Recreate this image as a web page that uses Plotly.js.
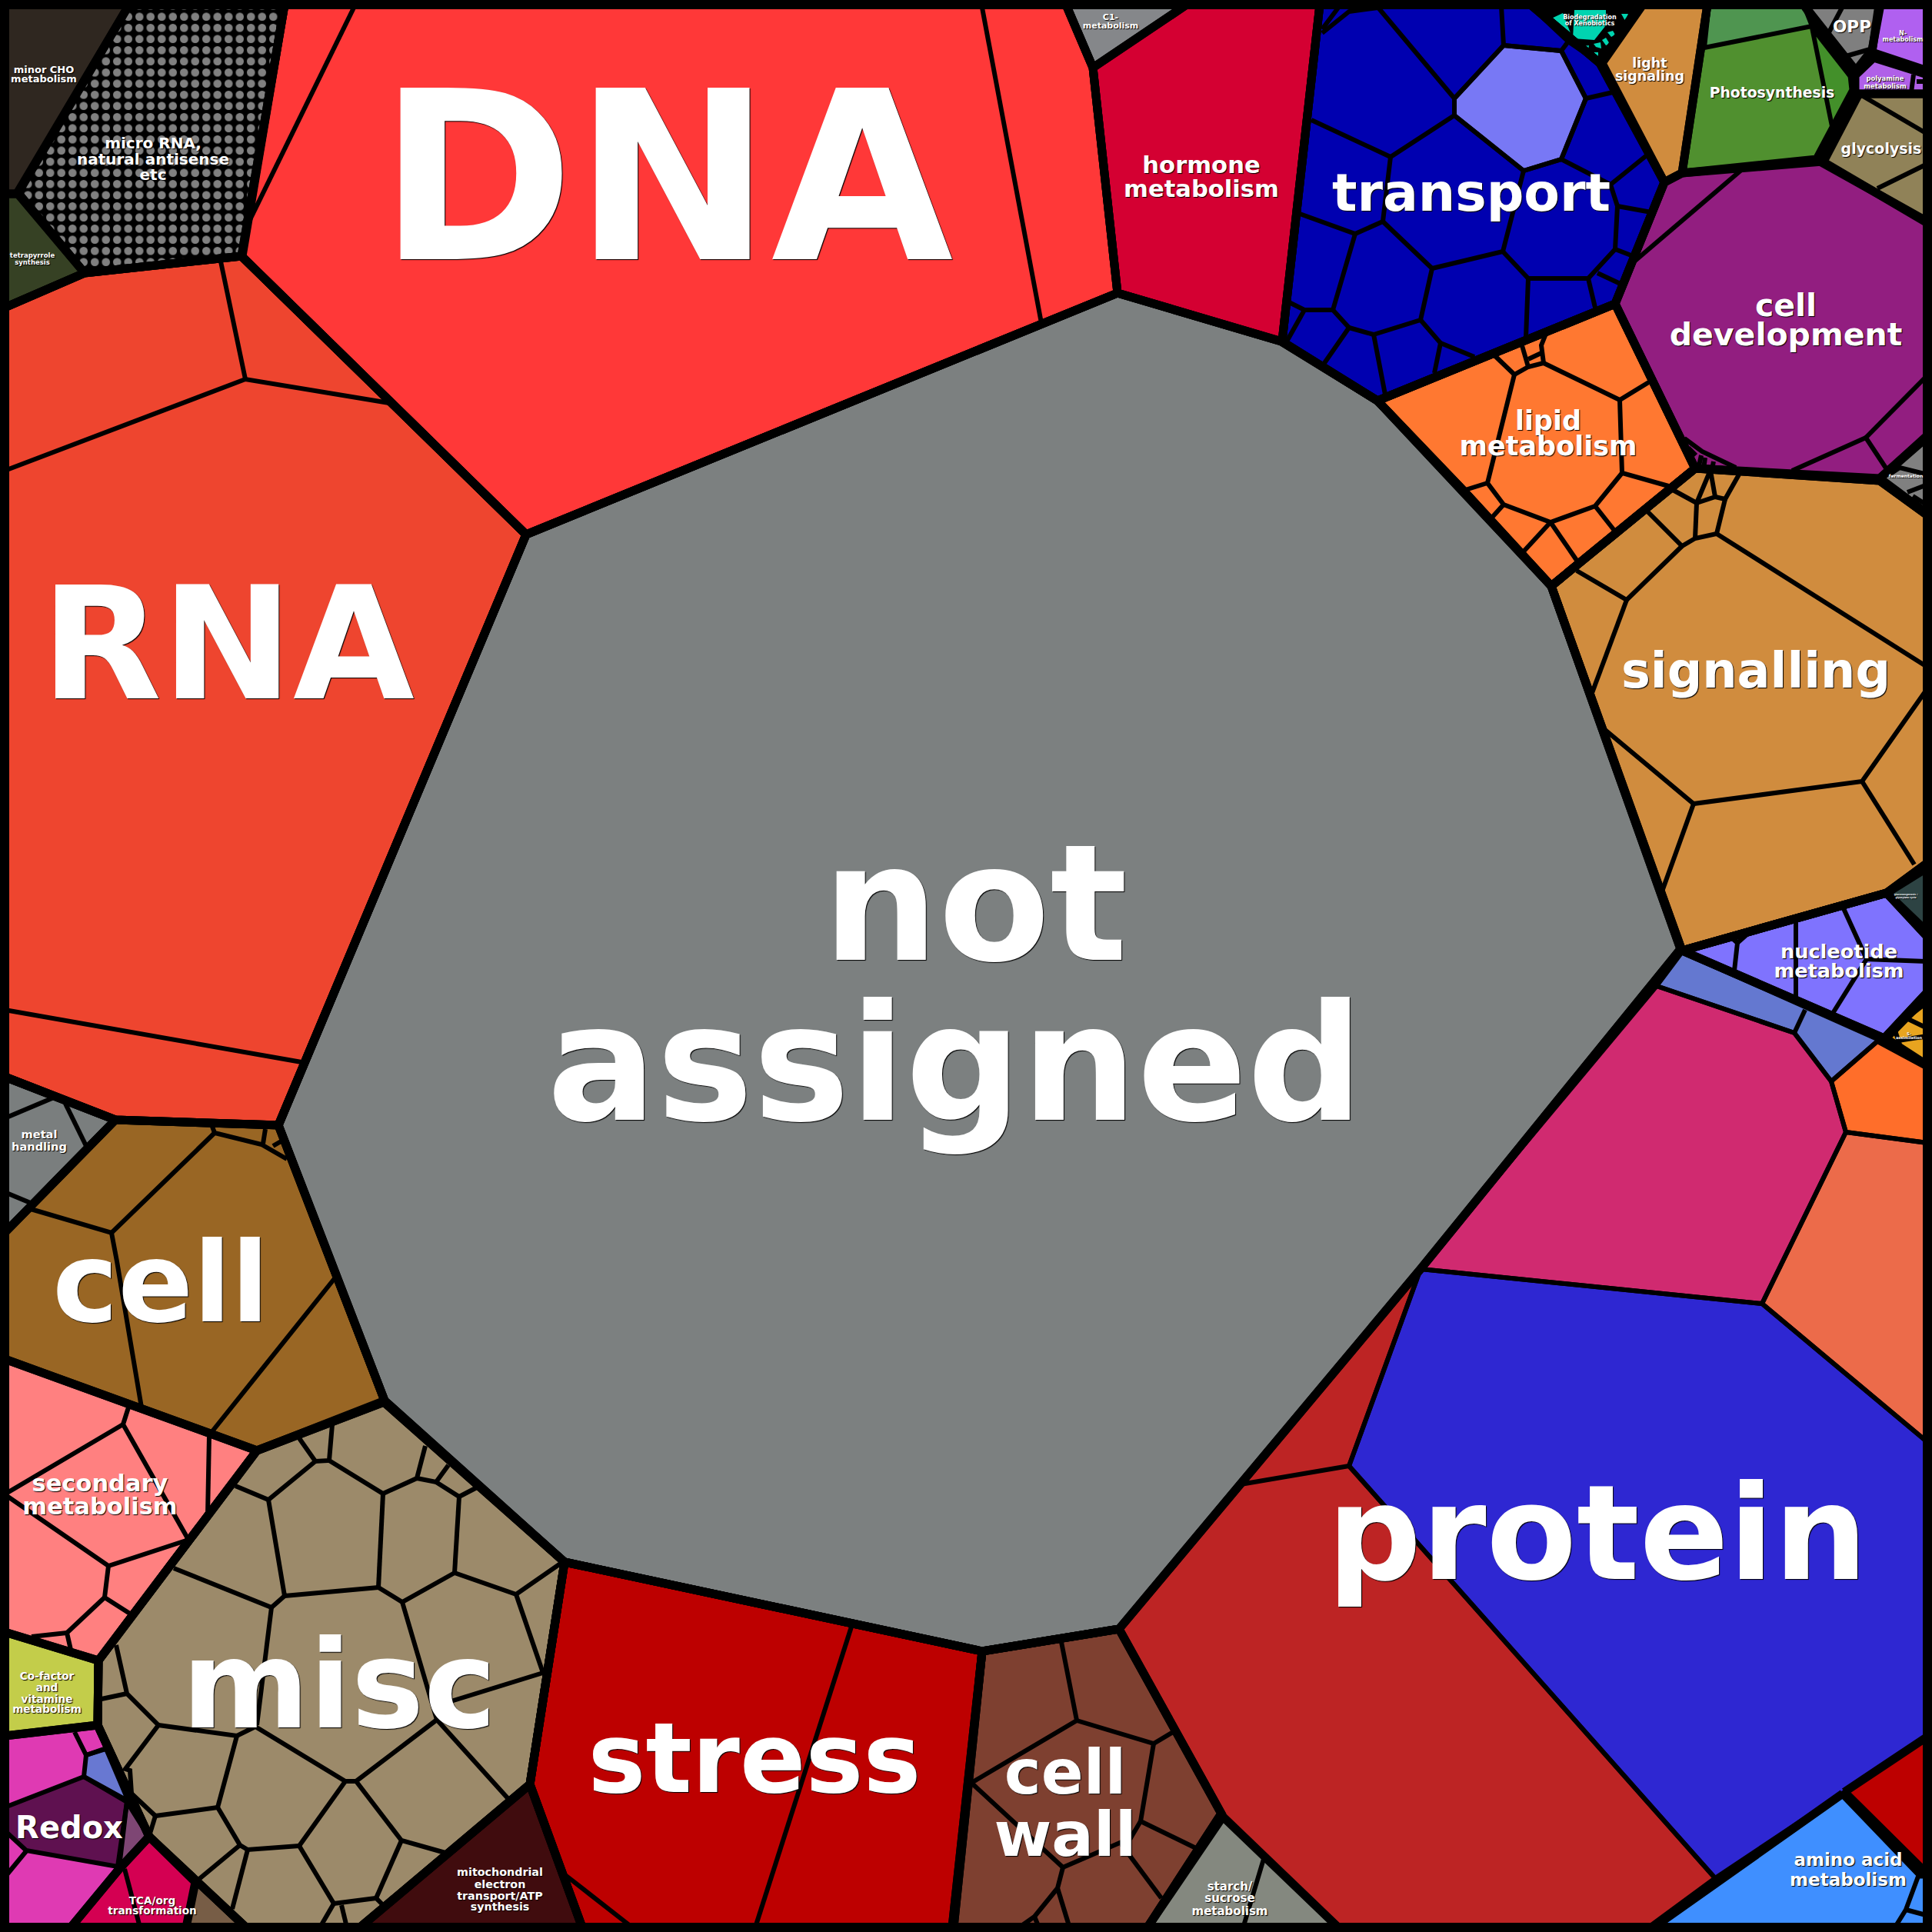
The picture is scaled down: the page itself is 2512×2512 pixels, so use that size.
<!DOCTYPE html>
<html><head><meta charset="utf-8">
<script src="https://cdn.plot.ly/plotly-3.0.1.min.js"></script>
<style>html,body{margin:0;padding:0;background:#000}</style></head>
<body><div id="chart" style="width:2512px;height:2512px"></div>
<script>
// ---- cell outlines (x,y in picture units) ----
const notAssigned=[[1453,381],[1666,444],[1791,521],[1905,640],[2017,762],[2185,1234],[1847,1650],[1455,2118],[1277,2147],[734,2031],[500,1821],[362,1463],[684,695]];
const dna=[[370,6],[1386,6],[1421,88],[1453,381],[684,695],[314,333]];
const dnaLines=[[[460,10],[318,300]],[[1277,10],[1354,420]]];
const rna=[[6,400],[110,355],[314,333],[684,695],[362,1463],[150,1456],[6,1400]];
const rnaLines=[[[287,340],[319,493]],[[6,612],[319,493],[506,524]],[[6,1313],[392,1381]]];
const microRna=[[168,6],[370,6],[315,333],[110,355],[23,250]];
const minorCho=[[6,6],[168,6],[23,252],[6,252]];
const tetrapyrrole=[[6,252],[23,252],[110,355],[6,400]];
const metal=[[6,1400],[150,1456],[6,1603]];
const metalLines=[[[6,1454],[70,1427]],[[85,1435],[112,1490]],[[6,1550],[42,1565]]];
const cell=[[150,1456],[362,1463],[500,1821],[334,1886],[6,1767],[6,1603]];
const cellLines=[[[275,1462],[279,1473],[340,1488],[373,1507]],[[279,1473],[145,1603],[40,1572]],[[145,1603],[152,1640],[184,1830]],[[276,1861],[436,1661]],[[345,1468],[342,1487]],[[355,1490],[367,1483]]];
const secondary=[[6,1767],[334,1886],[128,2159],[6,2122]];
const secondaryLines=[[[167,1830],[160,1852],[245,2002]],[[160,1852],[6,1943],[141,2036],[245,2002]],[[141,2036],[136,2077],[172,2100]],[[136,2077],[87,2123],[92,2145]],[[87,2123],[41,2128]],[[272,1866],[270,1970]]];
const cofactor=[[6,2122],[128,2159],[127,2243],[6,2257]];
const redox=[[6,2257],[127,2243],[194,2388],[155,2430],[92,2506],[6,2506]];
const redoxLines=[[[97,2252],[112,2282],[138,2273]],[[34,2407],[6,2441]]];
const redoxDark=[[6,2350],[109,2310],[165,2343],[153,2427],[34,2406],[6,2380]];
const redoxBlue=[[138,2274],[167,2342],[109,2310],[112,2282]];
const redoxMauve=[[165,2343],[192,2386],[155,2428]];
const tca=[[194,2388],[254,2447],[242,2506],[92,2506],[155,2430]];
const tcaLines=[[[162,2430],[182,2506]]];
const tcaBrown=[[254,2447],[316,2506],[242,2506]];
const misc=[[334,1886],[499,1823],[734,2031],[689,2320],[468,2506],[320,2506],[194,2388],[127,2243],[128,2159]];
const miscLines=[[[389,1870],[410,1900],[428,1899],[432,1852]],[[410,1900],[349,1950],[306,1932]],[[428,1899],[498,1942],[542,1922],[553,1880]],[[542,1922],[567,1927],[583,1905]],[[567,1927],[597,1946],[620,1934]],[[498,1942],[492,2064]],[[597,1946],[591,2045]],[[591,2045],[671,2073],[730,2032]],[[671,2073],[706,2175]],[[492,2064],[523,2083],[591,2045]],[[492,2064],[370,2075],[349,1950]],[[370,2075],[353,2090],[226,2039]],[[353,2090],[334,2243]],[[523,2083],[568,2236]],[[706,2175],[567,2218]],[[568,2236],[463,2316],[449,2316],[332,2245],[308,2257],[206,2243]],[[308,2257],[283,2350]],[[206,2243],[165,2202],[151,2139]],[[165,2202],[132,2209]],[[206,2243],[163,2300],[169,2302],[171,2332],[202,2361],[283,2350]],[[202,2361],[195,2384]],[[283,2350],[312,2399],[322,2405],[389,2400]],[[312,2399],[259,2443]],[[322,2405],[302,2482]],[[449,2316],[389,2400]],[[463,2316],[522,2393],[579,2409]],[[522,2393],[489,2468]],[[389,2400],[434,2475],[489,2468],[498,2477]],[[434,2475],[416,2506]],[[444,2477],[451,2506]],[[568,2236],[661,2339]]];
const mito=[[689,2320],[757,2506],[468,2506]];
const stress=[[734,2031],[1277,2147],[1238,2506],[757,2506],[689,2320]];
const stressLines=[[[1108,2112],[982,2506]],[[735,2438],[822,2506]]];
const cellWall=[[1277,2147],[1455,2118],[1588,2358],[1492,2506],[1240,2506]];
const cellWallLines=[[[1380,2135],[1400,2237],[1263,2318]],[[1400,2237],[1500,2267],[1525,2252]],[[1500,2267],[1483,2368],[1555,2403]],[[1483,2368],[1470,2390],[1382,2428],[1263,2318]],[[1382,2428],[1375,2455],[1345,2492],[1328,2504]],[[1375,2455],[1390,2504]],[[1458,2398],[1510,2468]],[[1345,2492],[1350,2504]]];
const starch=[[1590,2362],[1740,2506],[1492,2506]];
const starchLines=[[[1643,2417],[1617,2504]]];
const proteinRed=[[1847,1650],[1754,1906],[2230,2442],[2143,2506],[1740,2506],[1588,2358],[1455,2118]];
const proteinRedLines=[[[1613,1930],[1754,1906]]];
const proteinBlue=[[1847,1650],[2291,1695],[2506,1875],[2506,2258],[2230,2442],[1754,1906]];
const proteinPink=[[1847,1650],[2154,1282],[2333,1343],[2381,1406],[2400,1472],[2291,1695]];
const proteinSalmon=[[2400,1472],[2506,1486],[2506,1875],[2291,1695]];
const proteinOrange=[[2441,1354],[2506,1389],[2506,1486],[2400,1472],[2381,1406]];
const proteinBand=[[2187,1238],[2443,1352],[2381,1406],[2333,1343],[2154,1282]];
const proteinBandLines=[[[2347,1313],[2333,1343]]];
const stressSmall=[[2398,2330],[2506,2258],[2506,2437]];
const amino=[[2396,2332],[2497,2437],[2506,2437],[2506,2506],[2150,2506]];
const aminoLines=[[[2495,2437],[2478,2483],[2465,2504]],[[2478,2483],[2504,2490]]];
const nucleotide=[[2187,1236],[2453,1161],[2506,1218],[2506,1290],[2450,1350]];
const nucleotideLines=[[[2249,1217],[2259,1226],[2255,1262]],[[2259,1226],[2277,1210]],[[2335,1191],[2335,1297]],[[2396,1179],[2427,1247],[2504,1250]],[[2427,1247],[2382,1319]]];
const teal=[[2453,1161],[2506,1128],[2506,1212]];
const sAssim=[[2506,1295],[2452,1350],[2506,1385]];
const sAssimLines=[[[2481,1325],[2506,1337]],[[2468,1353],[2506,1347]],[[2464,1340],[2470,1358]],[[2484,1320],[2506,1303]]];
const signalling=[[2017,762],[2204,609],[2444,625],[2506,670],[2506,1122],[2453,1161],[2187,1236]];
const signallingLines=[[[2175,637],[2206,654],[2224,611]],[[2206,654],[2204,700]],[[2206,654],[2230,646],[2224,612]],[[2230,646],[2243,649],[2261,617]],[[2243,649],[2232,694],[2204,700],[2187,710],[2142,665]],[[2187,710],[2115,780],[2050,742]],[[2115,780],[2070,901]],[[2232,694],[2504,866]],[[2087,949],[2202,1045],[2421,1016],[2504,898]],[[2421,1016],[2489,1124]],[[2202,1045],[2161,1159]]];
const lipid=[[1791,521],[2100,395],[2204,609],[2017,762]];
const lipidLines=[[[1943,462],[1969,487],[1987,477],[2007,472],[2004,449],[2010,434]],[[1987,477],[1978,446]],[[1987,467],[2004,459]],[[2007,472],[2106,520],[2147,495]],[[2106,520],[2109,615],[2173,633]],[[2109,615],[2074,658],[2016,679],[1955,656],[1934,628],[1969,487]],[[2074,658],[2100,691]],[[1934,628],[1902,638]],[[1955,656],[1937,676]],[[2016,679],[1981,717]],[[2016,679],[2051,730]]];
const transport=[[1716,6],[1990,6],[2080,82],[2164,237],[2100,395],[1791,521],[1667,444]];
const transportLines=[[[1719,43],[1754,15],[1792,10]],[[1719,38],[1740,10]],[[1792,10],[1891,128],[1955,59],[1952,8]],[[1955,59],[2030,66],[2039,54],[1990,8]],[[2030,66],[2062,128],[2097,120]],[[2039,54],[2080,82]],[[2062,128],[2030,207],[1981,222],[1891,150],[1891,128]],[[1891,150],[1808,204],[1705,156]],[[1808,204],[1798,288],[1762,304],[1690,278]],[[1762,304],[1733,403],[1696,403],[1676,393]],[[1696,403],[1673,444]],[[1733,403],[1754,426],[1722,472]],[[1754,426],[1786,435],[1801,513]],[[1786,435],[1847,416],[1862,349],[1798,288]],[[1862,349],[1954,327],[1981,222]],[[1954,327],[1987,362],[2065,362],[2100,324],[2103,268],[2094,240],[2141,202]],[[2103,268],[2147,276]],[[2094,240],[2030,207]],[[2100,324],[2126,334]],[[2077,355],[2109,370]],[[2065,362],[2074,400]],[[1987,362],[1984,439]],[[1847,416],[1873,446],[1865,485]],[[1873,446],[1917,464]]];
const transportLight=[[1955,59],[2030,66],[2062,128],[2030,207],[1981,222],[1891,150],[1891,128]];
const biodegradation=[[1990,6],[2133,6],[2080,82]];
const bioCellA=[[2015,25],[2032,17],[2042,43]];
const bioCellB=[[2047,13],[2088,13],[2088,33],[2073,52],[2045,50]];
const bioCellC=[[2058,60],[2066,59],[2065,65]];
const bioCellD=[[2072,57],[2081,55],[2082,63],[2075,61]];
const bioCellE=[[2083,52],[2088,49],[2093,57],[2088,59]];
const bioCellF=[[2090,42],[2097,40],[2100,45],[2095,48]];
const bioCellG=[[2068,68],[2078,68],[2078,74]];
const bioCellH=[[2108,18],[2117,18],[2113,27]];
const lightSignaling=[[2083,82],[2136,6],[2220,6],[2187,225],[2164,237]];
const photo=[[2220,6],[2345,6],[2408,98],[2410,117],[2362,207],[2187,225]];
const photoTop=[[2222,6],[2345,6],[2356,34],[2216,62]];
const photoRight=[[2356,36],[2410,105],[2410,117],[2385,179]];
const opp=[[2345,6],[2445,6],[2434,65],[2413,92]];
const oppLines=[[[2395,10],[2378,42]],[[2400,73],[2435,63]]];
const nMetab=[[2443,6],[2506,6],[2506,92],[2434,68]];
const polyamine=[[2436,75],[2506,97],[2506,122],[2412,122],[2412,98]];
const polyamineLines=[[[2488,97],[2485,120]],[[2492,106],[2506,106]]];
const glycolysis=[[2417,122],[2506,122],[2506,288],[2370,212]];
const glycolysisLines=[[[2417,122],[2504,173]],[[2441,245],[2504,214]]];
const c1=[[1386,6],[1543,6],[1421,88]];
const hormone=[[1421,88],[1543,6],[1716,6],[1667,444],[1453,381]];
const cellDev=[[2164,237],[2187,225],[2370,210],[2506,290],[2506,566],[2444,622],[2204,609],[2100,395]];
const cellDevLines=[[[2126,339],[2263,222]],[[2190,570],[2213,587],[2257,608]],[[2195,582],[2205,592]],[[2212,592],[2208,610]],[[2217,595],[2215,610]],[[2228,600],[2226,610]],[[2330,612],[2426,569],[2453,610]],[[2426,569],[2504,490]]];
const fermentation=[[2444,622],[2506,568],[2506,668]];
const fermentationLines=[[[2455,618],[2470,608],[2506,617]],[[2480,640],[2506,630]],[[2487,645],[2506,657]]];

// ---- labels: one entry per printed line ----
const labelText=["DNA","RNA","not","assigned","protein","misc","stress","cell","cell","wall","transport","cell","development","lipid","metabolism","signalling","hormone","metabolism","light","signaling","Photosynthesis","OPP","N-","metabolism","polyamine","metabolism","glycolysis","Biodegradation","of Xenobiotics","C1-","metabolism","minor CHO","metabolism","micro RNA,","natural antisense","etc","tetrapyrrole","synthesis","metal","handling","secondary","metabolism","Co-factor","and","vitamine","metabolism","Redox","TCA/org","transformation","mitochondrial","electron","transport/ATP","synthesis","starch/","sucrose","metabolism","amino acid","metabolism","nucleotide","metabolism","gluconeogenesis /","glyoxylate cycle","S-","assimilation","fermentation"];
const labelX=[866,296,1268,1242,2077,441,981,209,1385,1385,1913,2322,2322,2013,2013,2283,1562,1562,2145,2145,2304,2408,2474,2474,2451,2451,2446,2067,2067,1444,1444,57,57,199,199,199,42,42,51,51,130,130,61,61,61,61,90,198,198,650,650,650,650,1599,1599,1599,2403,2403,2391,2391,2478,2478,2482,2482,2478];
const labelBase=[340,910,1250,1458,2055,2248,2331,1719,2333,2414,275,411,449,559,592,895,225,256,88,105,127,42,46,54,105,115,200,25,33,26,37,95,107,193,214,234,335,344,1480,1496,1939,1969,2184,2199,2214,2227,2390,2476,2489,2439,2455,2470,2484,2458,2473,2490,2426,2452,1246,1271,1164,1168,1346,1351,621];
const labelSize=[306,204,211,211,171,159,126,144,81,81,68,41,41,35,35,63.7,30.6,30.6,17.5,17.5,18.8,21.6,8,8,8.4,8.4,19,8,8,11,11,13,13,20,20,20,8.5,8.5,14.6,14.6,30.5,30.5,13.6,13.6,13.6,13.6,40,13.6,13.6,14.3,14.3,14.3,14.3,15,15,15,23,23,25.6,25.6,3,3,5,5,6];

// ---- regions, painted in this order ----
const thin=6, thick=11;
const regions=[
 {p:notAssigned,c:'#7c8080'},
 {p:dna,c:'#ff3838',l:dnaLines},{p:rna,c:'#ee452f',l:rnaLines},
 {p:minorCho,c:'#2f2720'},{p:tetrapyrrole,c:'#364124'},
 {p:metal,c:'#7a7e7e',l:metalLines},{p:cell,c:'#996624',l:cellLines},
 {p:secondary,c:'#ff8080',l:secondaryLines},{p:cofactor,c:'#c3cd4a'},
 {p:redox,c:'#df3ab3',l:redoxLines},
 {p:redoxDark,c:'#5f1150',w:thin},{p:redoxBlue,c:'#6878d2',w:thin},{p:redoxMauve,c:'#7e4674',w:thin},
 {p:tca,c:'#d40052',l:tcaLines},{p:tcaBrown,c:'#775d46',w:thin},
 {p:misc,c:'#9c8a6a',l:miscLines},{p:mito,c:'#400c0e'},
 {p:stress,c:'#bd0000',l:stressLines},{p:cellWall,c:'#7e4030',l:cellWallLines},
 {p:starch,c:'#84887f',l:starchLines},
 {p:proteinRed,c:'#bd2424',l:proteinRedLines,w:thin},{p:proteinBlue,c:'#2e27d2',w:thin},
 {p:proteinPink,c:'#d02a70',w:thin},{p:proteinSalmon,c:'#ec6b4a',w:thin},
 {p:proteinOrange,c:'#ff6e2a',w:thin},{p:proteinBand,c:'#6478d0',l:proteinBandLines,w:thin},
 {p:stressSmall,c:'#bd0000'},{p:amino,c:'#3f8fff',l:aminoLines},
 {p:nucleotide,c:'#7f73fe',l:nucleotideLines},{p:teal,c:'#2d4343'},{p:sAssim,c:'#e8a41f',l:sAssimLines},
 {p:signalling,c:'#d08c3e',l:signallingLines},{p:lipid,c:'#ff7831',l:lipidLines},
 {p:transport,c:'#0000b0',l:transportLines},{p:transportLight,c:'#7878f5',w:thin},
 {p:biodegradation,c:'#000000'},
 {p:bioCellA,c:'#00d4b0',w:0},{p:bioCellB,c:'#00d4b0',w:0},{p:bioCellC,c:'#00d4b0',w:0},{p:bioCellD,c:'#00d4b0',w:0},
 {p:bioCellE,c:'#00d4b0',w:0},{p:bioCellF,c:'#00d4b0',w:0},{p:bioCellG,c:'#00d4b0',w:0},{p:bioCellH,c:'#00d4b0',w:0},
 {p:lightSignaling,c:'#d08c3e'},{p:photo,c:'#50902f'},{p:photoTop,c:'#4f9550',w:thin},{p:photoRight,c:'#43902a',w:thin},
 {p:opp,c:'#7f7f7f',l:oppLines},{p:nMetab,c:'#b060f0'},{p:polyamine,c:'#b060e8',l:polyamineLines},
 {p:glycolysis,c:'#908258',l:glycolysisLines},{p:c1,c:'#85878a'},{p:hormone,c:'#d40032'},
 {p:cellDev,c:'#921e80',l:cellDevLines},{p:fermentation,c:'#808080',l:fermentationLines},
];
const close=p=>p.concat([p[0]]);
const xs=p=>p.map(v=>v[0]), ys=p=>p.map(v=>v[1]);
const traces=[];
// pattern region
traces.push({type:'scatter',mode:'none',x:xs(close(microRna)),y:ys(close(microRna)),fill:'toself',fillcolor:'#000',
  fillpattern:{shape:'.',size:14.5,solidity:0.42,bgcolor:'#000',fgcolor:'#808080'},hoverinfo:'skip'});
regions.forEach(r=>{
  const q=close(r.p);
  traces.push({type:'scatter',mode:'none',x:xs(q),y:ys(q),fill:'toself',fillcolor:r.c,hoverinfo:'skip'});
  if(r.l){
    const lx=[],ly=[];
    r.l.forEach(s=>{s.forEach(v=>{lx.push(v[0]);ly.push(v[1]);});lx.push(null);ly.push(null);});
    r._lx=lx;r._ly=ly;
  }
});
regions.forEach(r=>{
  if(r.l) traces.push({type:'scatter',mode:'lines',x:r._lx,y:r._ly,line:{color:'#000',width:thin},hoverinfo:'skip',connectgaps:false});
});
regions.concat([{p:microRna}]).forEach(r=>{
  if(r.w===0) return;
  const q=close(r.p);
  traces.push({type:'scatter',mode:'lines',x:xs(q),y:ys(q),line:{color:'#000',width:r.w||thick},hoverinfo:'skip'});
});
// thick outlines of the big groups again, on top of any thin inner cell edge
[notAssigned,dna,rna,misc,stress,cellWall,signalling,lipid,transport,nucleotide].forEach(p=>{
  const q=close(p);
  traces.push({type:'scatter',mode:'lines',x:xs(q),y:ys(q),line:{color:'#000',width:thick},hoverinfo:'skip'});
});
// frame
traces.push({type:'scatter',mode:'lines',x:[0,2512,2512,0,0],y:[0,0,2512,2512,0],line:{color:'#000',width:24},cliponaxis:false,hoverinfo:'skip'});
// labels
traces.push({type:'scatter',mode:'text',x:labelX,y:labelBase.map((b,i)=>b-0.26*labelSize[i]),text:labelText,textposition:'middle center',cliponaxis:false,hoverinfo:'skip',
  textfont:{family:'DejaVu Sans',size:labelSize,color:'#fff',weight:700,shadow:'1px 1px 1px #000'}});

Plotly.newPlot('chart',traces,{width:2512,height:2512,margin:{l:0,r:0,t:0,b:0},showlegend:false,
  paper_bgcolor:'#000',plot_bgcolor:'#000',
  xaxis:{range:[0,2512],visible:false,fixedrange:true},
  yaxis:{range:[2512,0],visible:false,fixedrange:true}},{staticPlot:true});
</script></body></html>
